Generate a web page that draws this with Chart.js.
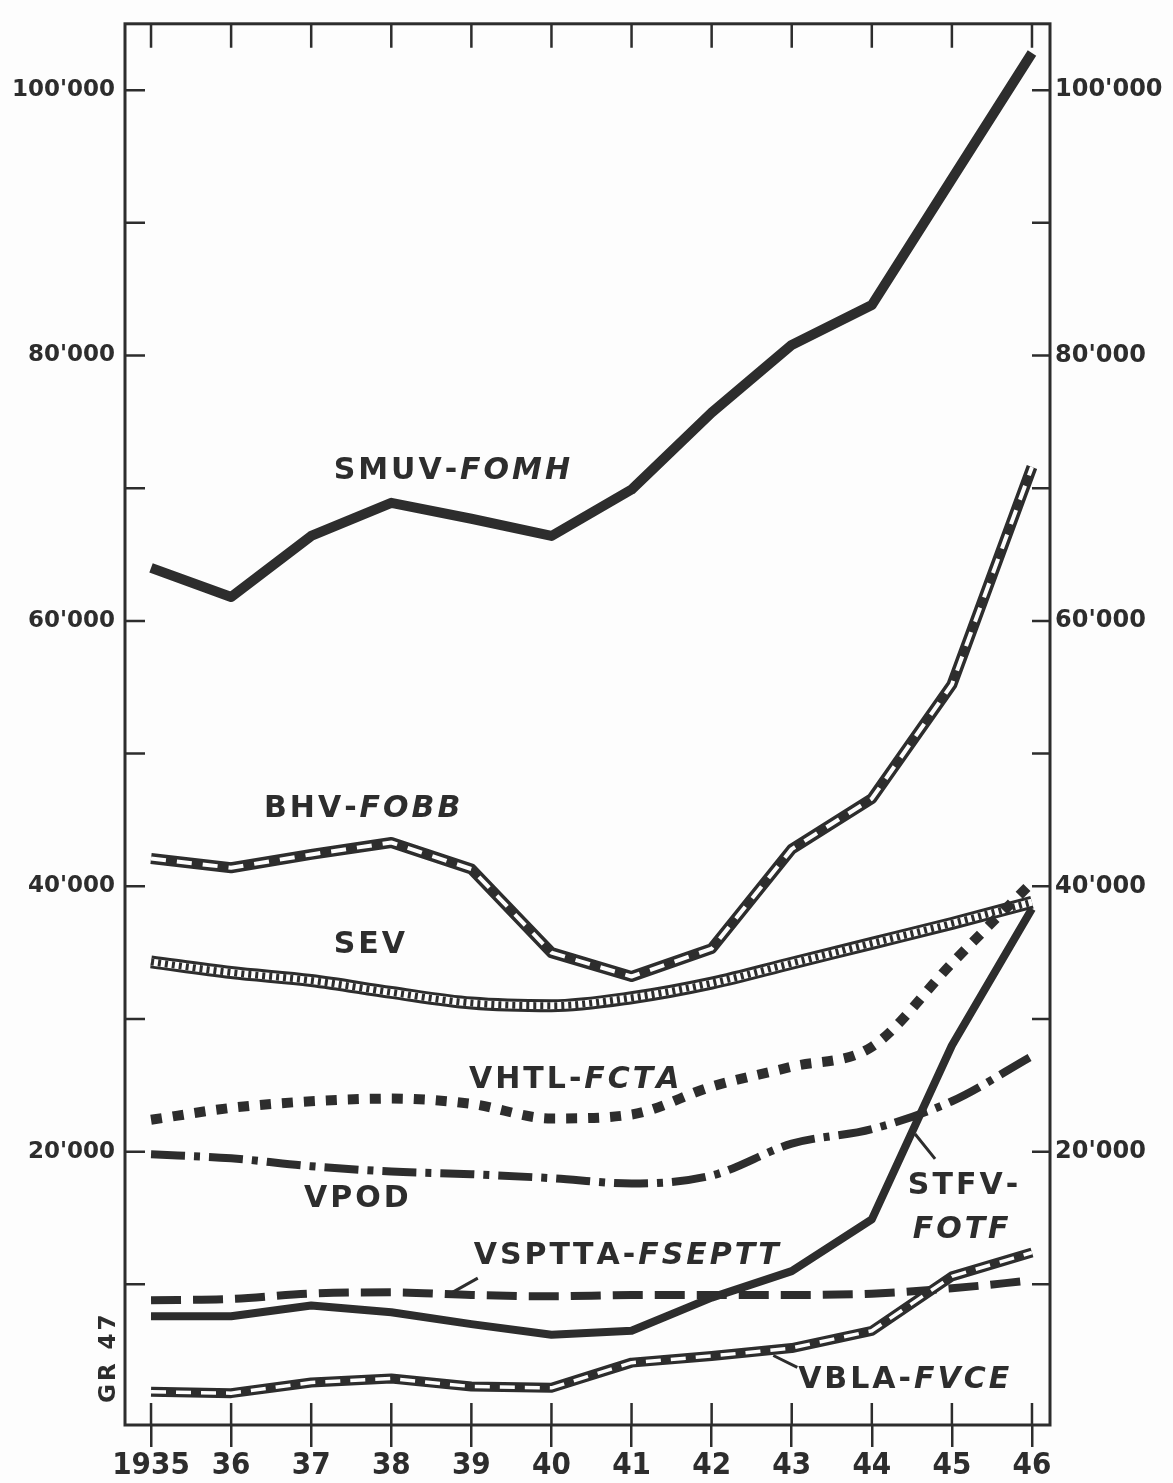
<!DOCTYPE html>
<html>
<head>
<meta charset="utf-8">
<script src="https://cdn.jsdelivr.net/npm/chart.js@4.4.1/dist/chart.umd.min.js"></script>
<style>
  html, body { margin: 0; padding: 0; background: #fdfdfd; }
  canvas { display: block; }
</style>
</head>
<body>
<canvas id="chart" width="1173" height="1483"></canvas>
<script>
// years on the x axis and how they are printed
const years = [1935, 1936, 1937, 1938, 1939, 1940, 1941, 1942, 1943, 1944, 1945, 1946];
const yearLabels = ["1935", "36", "37", "38", "39", "40", "41", "42", "43", "44", "45", "46"];

// labelled and unlabelled value ticks
const valueTicks = [20000, 40000, 60000, 80000, 100000];
const minorTicks = [10000, 20000, 30000, 40000, 50000, 60000, 70000, 80000, 90000, 100000];

// members per union
const smuvFomh = [64000, 61800, 66400, 68900, 67700, 66400, 69900, 75700, 80800, 83800, 93300, 102800];
const bhvFobb = [42100, 41400, 42400, 43300, 41300, 35000, 33200, 35300, 42800, 46600, 55200, 71600];
const sev = [34300, 33500, 32900, 32000, 31200, 31000, 31600, 32700, 34200, 35700, 37200, 38800];
const vhtlFcta = [22400, 23300, 23800, 24000, 23600, 22500, 22800, 24900, 26400, 27900, 34200, 40300];
const vpod = [19800, 19500, 18900, 18500, 18300, 18000, 17600, 18200, 20600, 21700, 23800, 27200];
const vspttaFseptt = [8800, 8900, 9300, 9400, 9200, 9100, 9200, 9200, 9200, 9300, 9700, 10300];
const stfvFotf = [7600, 7600, 8400, 7900, 7000, 6200, 6500, 9000, 11000, 14900, 28000, 38300];
const vblaFvce = [1900, 1800, 2600, 2900, 2300, 2200, 4100, 4600, 5200, 6500, 10600, 12400];

const ink = "#2d2d2d";
const paper = "#fdfdfd";

// name tags beside the lines (data coordinates), second part in italics
const notes = [
  { x: 1937.28, y: 71300, parts: [["SMUV-", false], ["FOMH", true]] },
  { x: 1936.41, y: 45800, parts: [["BHV-", false], ["FOBB", true]] },
  { x: 1937.28, y: 35550, parts: [["SEV", false]] },
  { x: 1938.97, y: 25370, parts: [["VHTL-", false], ["FCTA", true]] },
  { x: 1936.91, y: 16400, parts: [["VPOD", false]] },
  { x: 1939.03, y: 12100, parts: [["VSPTTA-", false], ["FSEPTT", true]] },
  { x: 1944.45, y: 17400, parts: [["STFV-", false]] },
  { x: 1944.51, y: 14100, parts: [["FOTF", true]] },
  { x: 1943.08, y: 2770, parts: [["VBLA-", false], ["FVCE", true]] },
];
const leaders = [
  [[1938.73, 9280], [1939.08, 10470]],
  [[1944.54, 21330], [1944.79, 19460]],
  [[1942.77, 4640], [1943.07, 3740]],
];

const pts = (vals) => years.map((yr, i) => ({ x: yr, y: vals[i] }));
const fmt = (v) => String(v).replace(/\B(?=(\d{3})+(?!\d))/g, "'");

function line(vals, opts) {
  return Object.assign({
    data: pts(vals),
    borderColor: ink,
    borderWidth: 8,
    pointRadius: 0,
    fill: false,
    tension: 0,
    borderCapStyle: "butt",
    borderJoinStyle: "round",
  }, opts);
}

function spaced(ctx, x, y, parts, size, gap) {
  let cx = x;
  parts.forEach(([txt, italic]) => {
    ctx.font = (italic ? "italic " : "") + "bold " + size + 'px "DejaVu Sans"';
    for (const ch of txt) {
      ctx.fillText(ch, cx, y);
      cx += ctx.measureText(ch).width + gap;
    }
  });
}

const frame = {
  id: "frame",
  beforeDraw(chart) {
    const { ctx, width, height } = chart;
    ctx.save();
    ctx.fillStyle = paper;
    ctx.fillRect(0, 0, width, height);
    ctx.restore();
  },
  afterDraw(chart) {
    const { ctx, chartArea: a, scales: { x, y } } = chart;
    ctx.save();
    ctx.strokeStyle = ink;
    ctx.fillStyle = ink;
    ctx.lineWidth = 3;
    ctx.lineCap = "square";
    ctx.strokeRect(a.left, a.top, a.right - a.left, a.bottom - a.top);

    ctx.lineWidth = 2.5;
    ctx.lineCap = "butt";
    ctx.beginPath();
    years.forEach((yr) => {
      const px = x.getPixelForValue(yr);
      ctx.moveTo(px, a.top); ctx.lineTo(px, a.top + 24);
      ctx.moveTo(px, a.bottom); ctx.lineTo(px, a.bottom - 22);
    });
    minorTicks.forEach((v) => {
      const py = y.getPixelForValue(v);
      ctx.moveTo(a.left, py); ctx.lineTo(a.left + 20, py);
      ctx.moveTo(a.right - 18, py); ctx.lineTo(a.right, py);
    });
    ctx.stroke();

    ctx.lineWidth = 3;
    ctx.beginPath();
    leaders.forEach(([p, q]) => {
      ctx.moveTo(x.getPixelForValue(p[0]), y.getPixelForValue(p[1]));
      ctx.lineTo(x.getPixelForValue(q[0]), y.getPixelForValue(q[1]));
    });
    ctx.stroke();

    ctx.textBaseline = "middle";
    ctx.textAlign = "left";
    notes.forEach((n) => {
      spaced(ctx, x.getPixelForValue(n.x), y.getPixelForValue(n.y), n.parts, 30, 3);
    });

    ctx.translate(a.left - 16, a.bottom - 22);
    ctx.rotate(-Math.PI / 2);
    spaced(ctx, 0, 0, [["GR 47", false]], 23, 3);
    ctx.restore();
  },
};

// later entries sit on top: Chart.js paints low "order" last
const datasets = [
  line(smuvFomh, { borderWidth: 10 }),
  line(bhvFobb, { borderWidth: 11 }),
  line(bhvFobb, { borderWidth: 4, borderColor: paper, borderDash: [15, 11] }),
  line(sev, { borderWidth: 13, cubicInterpolationMode: "monotone" }),
  line(sev, { borderWidth: 7, borderColor: paper, cubicInterpolationMode: "monotone" }),
  line(sev, { borderWidth: 7, borderDash: [3, 4], cubicInterpolationMode: "monotone" }),
  line(vhtlFcta, { borderWidth: 10, borderDash: [11, 11], cubicInterpolationMode: "monotone" }),
  line(vpod, { borderWidth: 8, borderDash: [34, 9, 6, 9], cubicInterpolationMode: "monotone" }),
  line(stfvFotf, { borderWidth: 8 }),
  line(vspttaFseptt, { borderWidth: 8, borderDash: [30, 12], cubicInterpolationMode: "monotone" }),
  line(vblaFvce, { borderWidth: 10 }),
  line(vblaFvce, { borderWidth: 3.5, borderColor: paper, borderDash: [15, 10] }),
].map((d, i, all) => Object.assign(d, { order: all.length - i }));

new Chart(document.getElementById("chart"), {
  type: "line",
  data: { datasets },
  options: {
    responsive: false,
    animation: false,
    devicePixelRatio: 1,
    layout: { padding: { top: 14, left: 0, right: 0, bottom: 0 } },
    plugins: { legend: { display: false }, tooltip: { enabled: false } },
    scales: {
      x: {
        type: "linear",
        position: "bottom",
        min: 1934.675,
        max: 1946.225,
        afterBuildTicks: (s) => { s.ticks = years.map((v) => ({ value: v })); },
        afterFit: (s) => { s.height = 58; },
        border: { display: false },
        grid: { drawOnChartArea: false, drawTicks: true, tickLength: 22, color: ink, lineWidth: 2.5 },
        ticks: {
          padding: 0,
          color: ink,
          font: { family: '"DejaVu Sans Condensed", "DejaVu Sans"', size: 31, weight: "bold" },
          callback: (v) => yearLabels[years.indexOf(v)],
        },
      },
      y: {
        position: "left",
        min: -600,
        max: 105000,
        afterBuildTicks: (s) => { s.ticks = valueTicks.map((v) => ({ value: v })); },
        afterFit: (s) => { s.width = 125; },
        border: { display: false },
        grid: { display: false, drawTicks: false },
        ticks: {
          padding: 10,
          color: ink,
          font: { family: '"DejaVu Sans"', size: 23, weight: "bold" },
          callback: (v) => fmt(v),
        },
      },
      y2: {
        position: "right",
        min: -600,
        max: 105000,
        afterBuildTicks: (s) => { s.ticks = valueTicks.map((v) => ({ value: v })); },
        afterFit: (s) => { s.width = 123; },
        border: { display: false },
        grid: { display: false, drawTicks: false },
        ticks: {
          padding: 5,
          color: ink,
          font: { family: '"DejaVu Sans"', size: 24, weight: "bold" },
          callback: (v) => fmt(v),
        },
      },
    },
  },
  plugins: [frame],
});
</script>
</body>
</html>
